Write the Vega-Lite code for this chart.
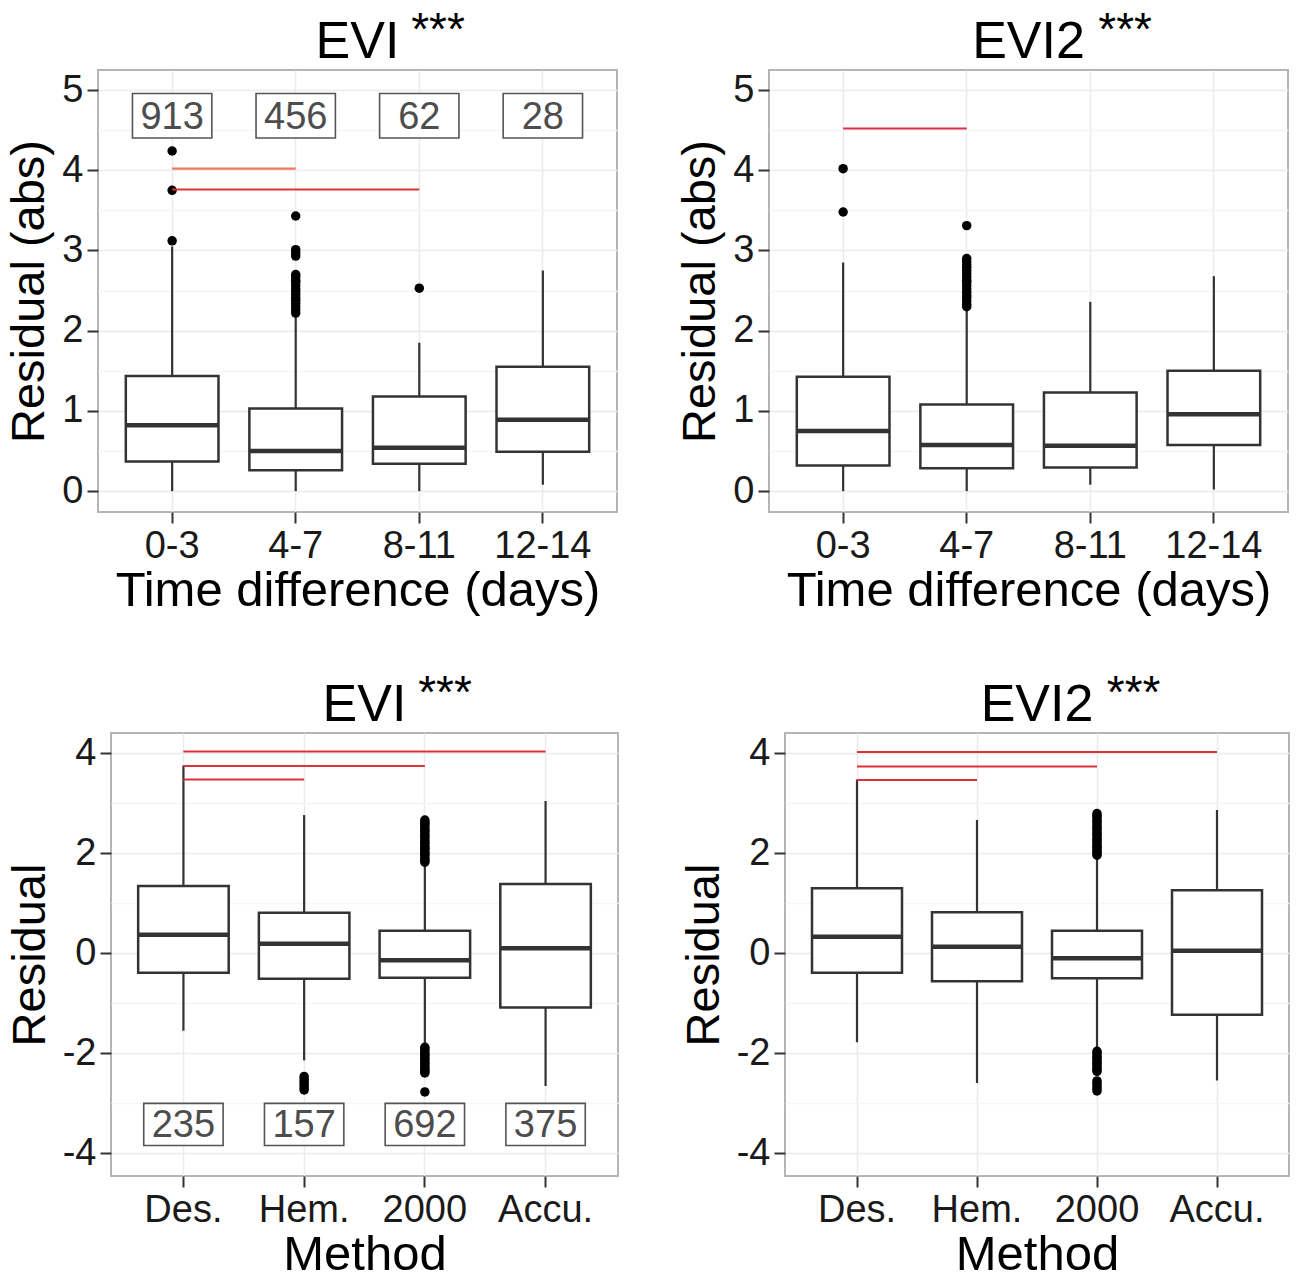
{
  "$schema": "https://vega.github.io/schema/vega-lite/v6.json",
  "padding": {"left": 3, "top": 7, "right": 0, "bottom": 0},
  "background": "white",
  "spacing": 54,
  "datasets": {
    "empty": [],
    "p1box": [
      {"cat": "0-3", "lo": 0, "q1": 0.37, "med": 0.82, "q3": 1.435, "hi": 3.05},
      {"cat": "4-7", "lo": 0, "q1": 0.26, "med": 0.5, "q3": 1.03, "hi": 2.18},
      {"cat": "8-11", "lo": 0, "q1": 0.34, "med": 0.54, "q3": 1.18, "hi": 1.85},
      {"cat": "12-14", "lo": 0.08, "q1": 0.49, "med": 0.89, "q3": 1.55, "hi": 2.75}
    ],
    "p1out": [
      {"cat": "0-3", "v": 4.24}, {"cat": "0-3", "v": 3.75}, {"cat": "0-3", "v": 3.12},
      {"cat": "4-7", "v": 3.43}, {"cat": "4-7", "v": 3.01}, {"cat": "4-7", "v": 2.97}, {"cat": "4-7", "v": 2.93},
      {"cat": "4-7", "v": 2.7}, {"cat": "4-7", "v": 2.67}, {"cat": "4-7", "v": 2.63}, {"cat": "4-7", "v": 2.6},
      {"cat": "4-7", "v": 2.56}, {"cat": "4-7", "v": 2.52}, {"cat": "4-7", "v": 2.49}, {"cat": "4-7", "v": 2.45},
      {"cat": "4-7", "v": 2.41}, {"cat": "4-7", "v": 2.38}, {"cat": "4-7", "v": 2.34}, {"cat": "4-7", "v": 2.3},
      {"cat": "4-7", "v": 2.26}, {"cat": "4-7", "v": 2.22},
      {"cat": "8-11", "v": 2.53}
    ],
    "p1sig": [
      {"from": "0-3", "to": "4-7", "y": 4.02},
      {"from": "0-3", "to": "8-11", "y": 3.76}
    ],
    "p1n": [
      {"cat": "0-3", "n": "913"}, {"cat": "4-7", "n": "456"}, {"cat": "8-11", "n": "62"}, {"cat": "12-14", "n": "28"}
    ],
    "p2box": [
      {"cat": "0-3", "lo": 0, "q1": 0.32, "med": 0.75, "q3": 1.425, "hi": 2.85},
      {"cat": "4-7", "lo": 0, "q1": 0.285, "med": 0.575, "q3": 1.08, "hi": 2.25},
      {"cat": "8-11", "lo": 0.08, "q1": 0.295, "med": 0.565, "q3": 1.23, "hi": 2.36},
      {"cat": "12-14", "lo": 0.02, "q1": 0.575, "med": 0.96, "q3": 1.5, "hi": 2.68}
    ],
    "p2out": [
      {"cat": "0-3", "v": 4.02}, {"cat": "0-3", "v": 3.48},
      {"cat": "4-7", "v": 3.31}, {"cat": "4-7", "v": 2.9}, {"cat": "4-7", "v": 2.86}, {"cat": "4-7", "v": 2.82},
      {"cat": "4-7", "v": 2.79}, {"cat": "4-7", "v": 2.75}, {"cat": "4-7", "v": 2.71}, {"cat": "4-7", "v": 2.67},
      {"cat": "4-7", "v": 2.63}, {"cat": "4-7", "v": 2.6}, {"cat": "4-7", "v": 2.56}, {"cat": "4-7", "v": 2.52},
      {"cat": "4-7", "v": 2.48}, {"cat": "4-7", "v": 2.44}, {"cat": "4-7", "v": 2.41}, {"cat": "4-7", "v": 2.37},
      {"cat": "4-7", "v": 2.33}, {"cat": "4-7", "v": 2.3}
    ],
    "p2sig": [
      {"from": "0-3", "to": "4-7", "y": 4.52}
    ],
    "p3box": [
      {"cat": "Des.", "lo": -1.55, "q1": -0.39, "med": 0.37, "q3": 1.344, "hi": 3.75},
      {"cat": "Hem.", "lo": -2.14, "q1": -0.51, "med": 0.19, "q3": 0.81, "hi": 2.76},
      {"cat": "2000", "lo": -1.82, "q1": -0.49, "med": -0.14, "q3": 0.45, "hi": 1.76},
      {"cat": "Accu.", "lo": -2.65, "q1": -1.085, "med": 0.1, "q3": 1.385, "hi": 3.04}
    ],
    "p3out": [
      {"cat": "Hem.", "v": -2.46}, {"cat": "Hem.", "v": -2.52}, {"cat": "Hem.", "v": -2.57}, {"cat": "Hem.", "v": -2.62},
      {"cat": "Hem.", "v": -2.68}, {"cat": "Hem.", "v": -2.73},
      {"cat": "2000", "v": 2.66}, {"cat": "2000", "v": 2.62}, {"cat": "2000", "v": 2.59}, {"cat": "2000", "v": 2.55},
      {"cat": "2000", "v": 2.5}, {"cat": "2000", "v": 2.46}, {"cat": "2000", "v": 2.43}, {"cat": "2000", "v": 2.38},
      {"cat": "2000", "v": 2.34}, {"cat": "2000", "v": 2.31}, {"cat": "2000", "v": 2.26}, {"cat": "2000", "v": 2.22},
      {"cat": "2000", "v": 2.19}, {"cat": "2000", "v": 2.14}, {"cat": "2000", "v": 2.1}, {"cat": "2000", "v": 2.07},
      {"cat": "2000", "v": 2.02}, {"cat": "2000", "v": 1.98}, {"cat": "2000", "v": 1.95}, {"cat": "2000", "v": 1.9},
      {"cat": "2000", "v": 1.86}, {"cat": "2000", "v": 1.82},
      {"cat": "2000", "v": -1.88}, {"cat": "2000", "v": -1.92}, {"cat": "2000", "v": -1.97}, {"cat": "2000", "v": -2.01},
      {"cat": "2000", "v": -2.04}, {"cat": "2000", "v": -2.09}, {"cat": "2000", "v": -2.12}, {"cat": "2000", "v": -2.17},
      {"cat": "2000", "v": -2.2}, {"cat": "2000", "v": -2.24}, {"cat": "2000", "v": -2.29}, {"cat": "2000", "v": -2.32},
      {"cat": "2000", "v": -2.36}, {"cat": "2000", "v": -2.39}, {"cat": "2000", "v": -2.77}
    ],
    "p3sig": [
      {"from": "Des.", "to": "Accu.", "y": 4.03},
      {"from": "Des.", "to": "2000", "y": 3.74},
      {"from": "Des.", "to": "Hem.", "y": 3.47}
    ],
    "p3n": [
      {"cat": "Des.", "n": "235"}, {"cat": "Hem.", "n": "157"}, {"cat": "2000", "n": "692"}, {"cat": "Accu.", "n": "375"}
    ],
    "p4box": [
      {"cat": "Des.", "lo": -1.78, "q1": -0.39, "med": 0.33, "q3": 1.3, "hi": 3.47},
      {"cat": "Hem.", "lo": -2.59, "q1": -0.56, "med": 0.13, "q3": 0.82, "hi": 2.66},
      {"cat": "2000", "lo": -1.9, "q1": -0.5, "med": -0.1, "q3": 0.45, "hi": 1.93},
      {"cat": "Accu.", "lo": -2.54, "q1": -1.23, "med": 0.05, "q3": 1.26, "hi": 2.86}
    ],
    "p4out": [
      {"cat": "2000", "v": 2.79}, {"cat": "2000", "v": 2.75}, {"cat": "2000", "v": 2.72}, {"cat": "2000", "v": 2.67},
      {"cat": "2000", "v": 2.63}, {"cat": "2000", "v": 2.6}, {"cat": "2000", "v": 2.55}, {"cat": "2000", "v": 2.51},
      {"cat": "2000", "v": 2.48}, {"cat": "2000", "v": 2.43}, {"cat": "2000", "v": 2.39}, {"cat": "2000", "v": 2.36},
      {"cat": "2000", "v": 2.31}, {"cat": "2000", "v": 2.27}, {"cat": "2000", "v": 2.24}, {"cat": "2000", "v": 2.19},
      {"cat": "2000", "v": 2.15}, {"cat": "2000", "v": 2.12}, {"cat": "2000", "v": 2.07}, {"cat": "2000", "v": 2.03},
      {"cat": "2000", "v": 2.0}, {"cat": "2000", "v": 1.96},
      {"cat": "2000", "v": -1.96}, {"cat": "2000", "v": -2.0}, {"cat": "2000", "v": -2.05}, {"cat": "2000", "v": -2.08},
      {"cat": "2000", "v": -2.12}, {"cat": "2000", "v": -2.17}, {"cat": "2000", "v": -2.2}, {"cat": "2000", "v": -2.24},
      {"cat": "2000", "v": -2.29}, {"cat": "2000", "v": -2.32}, {"cat": "2000", "v": -2.36},
      {"cat": "2000", "v": -2.55}, {"cat": "2000", "v": -2.6}, {"cat": "2000", "v": -2.65}, {"cat": "2000", "v": -2.7},
      {"cat": "2000", "v": -2.75}
    ],
    "p4sig": [
      {"from": "Des.", "to": "Accu.", "y": 4.02},
      {"from": "Des.", "to": "2000", "y": 3.73},
      {"from": "Des.", "to": "Hem.", "y": 3.46}
    ]
  },
  "config": {
    "font": "Liberation Sans",
    "view": {"stroke": "#b5b5b5", "strokeWidth": 2},
    "axis": {
      "labelFontSize": 38, "labelColor": "#1a1a1a", "labelFont": "Liberation Sans",
      "titleFontSize": 47, "titleFontWeight": "normal", "titleColor": "#000000", "titleFont": "Liberation Sans",
      "tickColor": "#333333", "tickSize": 11, "tickWidth": 2, "domain": false,
      "gridColor": "#ebebeb", "gridWidth": 1.5, "labelPadding": 4
    },
    "axisX": {"labelAngle": 0, "bandPosition": 0.5, "titlePadding": 1, "titleFontSize": 49},
    "axisY": {"titlePadding": 8},
    "title": {
      "fontSize": 52, "fontWeight": "normal", "color": "#000000", "font": "Liberation Sans",
      "subtitleFontSize": 46, "subtitleColor": "#000000", "subtitleFont": "Liberation Sans",
      "subtitlePadding": -60, "anchor": "middle", "offset": -7
    }
  },
  "vconcat": [
    {
      "spacing": 0,
      "hconcat": [
        {"width": 1, "height": 1, "view": {"stroke": null}, "data": {"name": "empty"}, "mark": "point"},
        {
          "spacing": 57,
          "hconcat": [
            {
              "width": 519, "height": 442,
              "title": {"text": "EVI", "subtitle": "\u200b\u2002\u2002\u2002\u2002\u2002\u2002\u2002***"},
              "layer": [
                {"data": {"name": "p1box"}, "mark": {"type": "rule", "color": "#333333", "strokeWidth": 2.2},
                 "encoding": {
                   "x": {"field": "cat", "type": "nominal", "title": "Time difference (days)", "scale": {"domain": ["0-3", "4-7", "8-11", "12-14"], "paddingInner": 0.25, "paddingOuter": 0.225}, "axis": {"grid": true}},
                   "y": {"field": "lo", "type": "quantitative", "title": "Residual (abs)", "scale": {"domain": [-0.26, 5.25], "nice": false, "zero": false},
                         "axis": {"values": [0, 0.5, 1, 1.5, 2, 2.5, 3, 3.5, 4, 4.5, 5], "labelExpr": "datum.value % 1 != 0 ? '' : '' + datum.value",
                                  "tickOpacity": {"condition": {"test": "datum.value % 1 != 0", "value": 0}, "value": 1},
                                  "gridColor": {"condition": {"test": "datum.value % 1 != 0", "value": "#f5f5f5"}, "value": "#ebebeb"}}},
                   "y2": {"field": "hi"}}},
                {"data": {"name": "p1box"}, "mark": {"type": "bar", "fill": "white", "stroke": "#333333", "strokeWidth": 2.5},
                 "encoding": {
                   "x": {"field": "cat", "type": "nominal", "title": "Time difference (days)"},
                   "y": {"field": "q1", "type": "quantitative", "title": "Residual (abs)"},
                   "y2": {"field": "q3"}}},
                {"data": {"name": "p1box"}, "mark": {"type": "bar", "fill": null, "stroke": "#333333", "strokeWidth": 4.5},
                 "encoding": {
                   "x": {"field": "cat", "type": "nominal", "title": "Time difference (days)"},
                   "y": {"field": "med", "type": "quantitative", "title": "Residual (abs)"},
                   "y2": {"field": "med"}}},
                {"data": {"name": "p1out"}, "mark": {"type": "point", "filled": true, "color": "#000000", "size": 90, "opacity": 1},
                 "encoding": {
                   "x": {"field": "cat", "type": "nominal", "title": "Time difference (days)"},
                   "y": {"field": "v", "type": "quantitative", "title": "Residual (abs)"}}},
                {"data": {"name": "p1sig"}, "transform": [{"filter": "datum.to == '4-7'"}], "mark": {"type": "rule", "color": "#f2775c", "strokeWidth": 2.2},
                 "encoding": {
                   "x": {"field": "from", "type": "nominal", "title": "Time difference (days)"},
                   "x2": {"field": "to"},
                   "y": {"field": "y", "type": "quantitative", "title": "Residual (abs)"}}},
                {"data": {"name": "p1sig"}, "transform": [{"filter": "datum.to != '4-7'"}], "mark": {"type": "rule", "color": "#dc3535", "strokeWidth": 2},
                 "encoding": {
                   "x": {"field": "from", "type": "nominal", "title": "Time difference (days)"},
                   "x2": {"field": "to"},
                   "y": {"field": "y", "type": "quantitative", "title": "Residual (abs)"}}},
                {"data": {"name": "p1n"}, "mark": {"type": "point", "shape": "M-1,-0.56L1,-0.56L1,0.56L-1,0.56Z", "size": 6300, "filled": true, "fill": "white", "stroke": "#555555", "strokeWidth": 1.6, "opacity": 1},
                 "encoding": {
                   "x": {"field": "cat", "type": "nominal", "title": "Time difference (days)"},
                   "y": {"datum": 4.68, "type": "quantitative", "title": "Residual (abs)"}}},
                {"data": {"name": "p1n"}, "mark": {"type": "text", "fontSize": 38, "color": "#4d4d4d", "baseline": "middle", "dy": 2},
                 "encoding": {
                   "x": {"field": "cat", "type": "nominal", "title": "Time difference (days)"},
                   "y": {"datum": 4.68, "type": "quantitative", "title": "Residual (abs)"},
                   "text": {"field": "n"}}}
              ]
            },
            {
              "width": 519, "height": 442,
              "title": {"text": "EVI2", "subtitle": "\u200b\u2002\u2002\u2002\u2002\u2002\u2002\u2002\u2002\u2009***"},
              "layer": [
                {"data": {"name": "p2box"}, "mark": {"type": "rule", "color": "#333333", "strokeWidth": 2.2},
                 "encoding": {
                   "x": {"field": "cat", "type": "nominal", "title": "Time difference (days)", "scale": {"domain": ["0-3", "4-7", "8-11", "12-14"], "paddingInner": 0.25, "paddingOuter": 0.225}, "axis": {"grid": true}},
                   "y": {"field": "lo", "type": "quantitative", "title": "Residual (abs)", "scale": {"domain": [-0.26, 5.25], "nice": false, "zero": false},
                         "axis": {"values": [0, 0.5, 1, 1.5, 2, 2.5, 3, 3.5, 4, 4.5, 5], "labelExpr": "datum.value % 1 != 0 ? '' : '' + datum.value",
                                  "tickOpacity": {"condition": {"test": "datum.value % 1 != 0", "value": 0}, "value": 1},
                                  "gridColor": {"condition": {"test": "datum.value % 1 != 0", "value": "#f5f5f5"}, "value": "#ebebeb"}}},
                   "y2": {"field": "hi"}}},
                {"data": {"name": "p2box"}, "mark": {"type": "bar", "fill": "white", "stroke": "#333333", "strokeWidth": 2.5},
                 "encoding": {
                   "x": {"field": "cat", "type": "nominal", "title": "Time difference (days)"},
                   "y": {"field": "q1", "type": "quantitative", "title": "Residual (abs)"},
                   "y2": {"field": "q3"}}},
                {"data": {"name": "p2box"}, "mark": {"type": "bar", "fill": null, "stroke": "#333333", "strokeWidth": 4.5},
                 "encoding": {
                   "x": {"field": "cat", "type": "nominal", "title": "Time difference (days)"},
                   "y": {"field": "med", "type": "quantitative", "title": "Residual (abs)"},
                   "y2": {"field": "med"}}},
                {"data": {"name": "p2out"}, "mark": {"type": "point", "filled": true, "color": "#000000", "size": 90, "opacity": 1},
                 "encoding": {
                   "x": {"field": "cat", "type": "nominal", "title": "Time difference (days)"},
                   "y": {"field": "v", "type": "quantitative", "title": "Residual (abs)"}}},
                {"data": {"name": "p2sig"}, "mark": {"type": "rule", "color": "#dd2d4a", "strokeWidth": 2},
                 "encoding": {
                   "x": {"field": "from", "type": "nominal", "title": "Time difference (days)"},
                   "x2": {"field": "to"},
                   "y": {"field": "y", "type": "quantitative", "title": "Residual (abs)"}}}
              ]
            }
          ]
        }
      ]
    },
    {
      "spacing": 0,
      "hconcat": [
        {"width": 2, "height": 1, "view": {"stroke": null}, "data": {"name": "empty"}, "mark": "point"},
        {
          "spacing": 60,
          "hconcat": [
            {
              "width": 507, "height": 443,
              "title": {"text": "EVI", "subtitle": "\u200b\u2002\u2002\u2002\u2002\u2002\u2002\u2002***"},
              "layer": [
                {"data": {"name": "p3box"}, "mark": {"type": "rule", "color": "#333333", "strokeWidth": 2.2},
                 "encoding": {
                   "x": {"field": "cat", "type": "nominal", "title": "Method", "scale": {"domain": ["Des.", "Hem.", "2000", "Accu."], "paddingInner": 0.25, "paddingOuter": 0.225}, "axis": {"grid": true}},
                   "y": {"field": "lo", "type": "quantitative", "title": "Residual", "scale": {"domain": [-4.45, 4.4], "nice": false, "zero": false},
                         "axis": {"values": [-4, -3, -2, -1, 0, 1, 2, 3, 4], "labelExpr": "datum.value % 2 != 0 ? '' : (datum.value < 0 ? '-' + abs(datum.value) : '' + datum.value)",
                                  "tickOpacity": {"condition": {"test": "datum.value % 2 != 0", "value": 0}, "value": 1},
                                  "gridColor": {"condition": {"test": "datum.value % 2 != 0", "value": "#f5f5f5"}, "value": "#ebebeb"}}},
                   "y2": {"field": "hi"}}},
                {"data": {"name": "p3box"}, "mark": {"type": "bar", "fill": "white", "stroke": "#333333", "strokeWidth": 2.5},
                 "encoding": {
                   "x": {"field": "cat", "type": "nominal", "title": "Method"},
                   "y": {"field": "q1", "type": "quantitative", "title": "Residual"},
                   "y2": {"field": "q3"}}},
                {"data": {"name": "p3box"}, "mark": {"type": "bar", "fill": null, "stroke": "#333333", "strokeWidth": 4.5},
                 "encoding": {
                   "x": {"field": "cat", "type": "nominal", "title": "Method"},
                   "y": {"field": "med", "type": "quantitative", "title": "Residual"},
                   "y2": {"field": "med"}}},
                {"data": {"name": "p3out"}, "mark": {"type": "point", "filled": true, "color": "#000000", "size": 90, "opacity": 1},
                 "encoding": {
                   "x": {"field": "cat", "type": "nominal", "title": "Method"},
                   "y": {"field": "v", "type": "quantitative", "title": "Residual"}}},
                {"data": {"name": "p3sig"}, "mark": {"type": "rule", "color": "#e0303a", "strokeWidth": 2},
                 "encoding": {
                   "x": {"field": "from", "type": "nominal", "title": "Method"},
                   "x2": {"field": "to"},
                   "y": {"field": "y", "type": "quantitative", "title": "Residual"}}},
                {"data": {"name": "p3n"}, "mark": {"type": "point", "shape": "M-1,-0.53L1,-0.53L1,0.53L-1,0.53Z", "size": 6300, "filled": true, "fill": "white", "stroke": "#555555", "strokeWidth": 1.6, "opacity": 1},
                 "encoding": {
                   "x": {"field": "cat", "type": "nominal", "title": "Method"},
                   "y": {"datum": -3.42, "type": "quantitative", "title": "Residual"}}},
                {"data": {"name": "p3n"}, "mark": {"type": "text", "fontSize": 38, "color": "#4d4d4d", "baseline": "middle", "dy": 2},
                 "encoding": {
                   "x": {"field": "cat", "type": "nominal", "title": "Method"},
                   "y": {"datum": -3.42, "type": "quantitative", "title": "Residual"},
                   "text": {"field": "n"}}}
              ]
            },
            {
              "width": 504, "height": 443,
              "title": {"text": "EVI2", "subtitle": "\u200b\u2002\u2002\u2002\u2002\u2002\u2002\u2002\u2002\u2009***"},
              "layer": [
                {"data": {"name": "p4box"}, "mark": {"type": "rule", "color": "#333333", "strokeWidth": 2.2},
                 "encoding": {
                   "x": {"field": "cat", "type": "nominal", "title": "Method", "scale": {"domain": ["Des.", "Hem.", "2000", "Accu."], "paddingInner": 0.25, "paddingOuter": 0.225}, "axis": {"grid": true}},
                   "y": {"field": "lo", "type": "quantitative", "title": "Residual", "scale": {"domain": [-4.45, 4.4], "nice": false, "zero": false},
                         "axis": {"values": [-4, -3, -2, -1, 0, 1, 2, 3, 4], "labelExpr": "datum.value % 2 != 0 ? '' : (datum.value < 0 ? '-' + abs(datum.value) : '' + datum.value)",
                                  "tickOpacity": {"condition": {"test": "datum.value % 2 != 0", "value": 0}, "value": 1},
                                  "gridColor": {"condition": {"test": "datum.value % 2 != 0", "value": "#f5f5f5"}, "value": "#ebebeb"}}},
                   "y2": {"field": "hi"}}},
                {"data": {"name": "p4box"}, "mark": {"type": "bar", "fill": "white", "stroke": "#333333", "strokeWidth": 2.5},
                 "encoding": {
                   "x": {"field": "cat", "type": "nominal", "title": "Method"},
                   "y": {"field": "q1", "type": "quantitative", "title": "Residual"},
                   "y2": {"field": "q3"}}},
                {"data": {"name": "p4box"}, "mark": {"type": "bar", "fill": null, "stroke": "#333333", "strokeWidth": 4.5},
                 "encoding": {
                   "x": {"field": "cat", "type": "nominal", "title": "Method"},
                   "y": {"field": "med", "type": "quantitative", "title": "Residual"},
                   "y2": {"field": "med"}}},
                {"data": {"name": "p4out"}, "mark": {"type": "point", "filled": true, "color": "#000000", "size": 90, "opacity": 1},
                 "encoding": {
                   "x": {"field": "cat", "type": "nominal", "title": "Method"},
                   "y": {"field": "v", "type": "quantitative", "title": "Residual"}}},
                {"data": {"name": "p4sig"}, "mark": {"type": "rule", "color": "#e0303a", "strokeWidth": 2},
                 "encoding": {
                   "x": {"field": "from", "type": "nominal", "title": "Method"},
                   "x2": {"field": "to"},
                   "y": {"field": "y", "type": "quantitative", "title": "Residual"}}}
              ]
            }
          ]
        }
      ]
    }
  ]
}
